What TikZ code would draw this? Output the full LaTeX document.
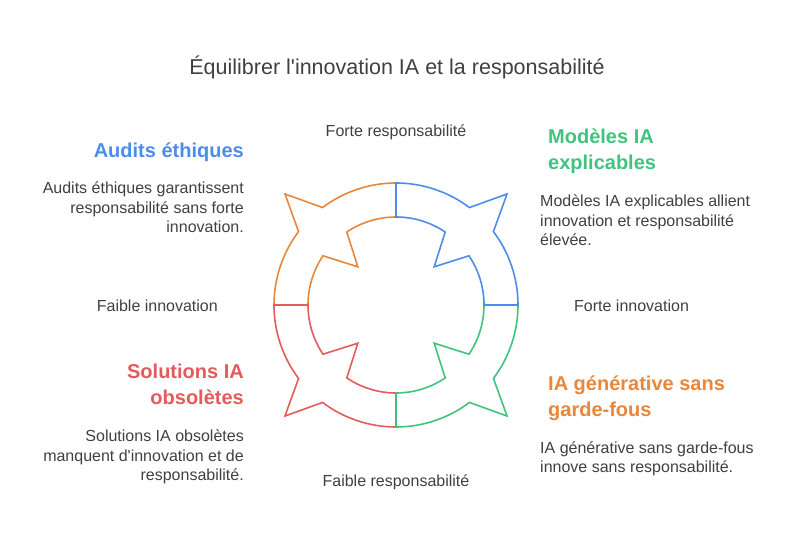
\documentclass[tikz,border=0pt]{standalone}
\usepackage{fontspec}
\setmainfont{Liberation Sans}
\usepackage{tikz}
\usetikzlibrary{positioning}
\definecolor{iablue}{RGB}{76, 140, 235}
\definecolor{iagreen}{RGB}{63, 196, 126}
\definecolor{iaorange}{RGB}{232, 135, 58}
\definecolor{iared}{RGB}{229, 90, 90}
\definecolor{txtgray}{RGB}{64, 64, 64}

\begin{document}
\begin{tikzpicture}[
  x=1pt, y=1pt,
  ringline/.style={line width=1.6pt, line join=miter},
  axislabel/.style={text=txtgray, inner sep=0pt, font=\fontsize{16}{19.5}\selectfont},
  headlabel/.style={inner sep=0pt, font=\fontsize{20}{26}\selectfont\bfseries},
  desclabel/.style={text=txtgray, inner sep=0pt, font=\fontsize{16}{19.5}\selectfont}
]
  \useasboundingbox (0,0) rectangle (800,559);

  % title
  \node[text=txtgray, inner sep=0pt, anchor=base, font=\fontsize{21.5}{26}\selectfont] (title) at (397,484) {Équilibrer l\textquotesingle innovation IA et la responsabilité};

  % ring, one closed piece per quadrant
  \begin{scope}[shift={(396,254)}]
    \draw[ringline, draw=iaorange] (90:122) arc[start angle=90, end angle=127, radius=122] -- (135:157) -- (143:122) arc[start angle=143, end angle=180, radius=122] -- (180:88) arc[start angle=180, end angle=146, radius=88] -- (135:54) -- (124:88) arc[start angle=124, end angle=90, radius=88] -- cycle;
    \draw[ringline, draw=iared] (180:122) arc[start angle=180, end angle=217, radius=122] -- (225:157) -- (233:122) arc[start angle=233, end angle=270, radius=122] -- (270:88) arc[start angle=270, end angle=236, radius=88] -- (225:54) -- (214:88) arc[start angle=214, end angle=180, radius=88] -- cycle;
    \draw[ringline, draw=iagreen] (270:122) arc[start angle=270, end angle=307, radius=122] -- (315:157) -- (323:122) arc[start angle=323, end angle=360, radius=122] -- (0:88) arc[start angle=360, end angle=326, radius=88] -- (315:54) -- (304:88) arc[start angle=304, end angle=270, radius=88] -- cycle;
    \draw[ringline, draw=iablue] (0:122) arc[start angle=0, end angle=37, radius=122] -- (45:157) -- (53:122) arc[start angle=53, end angle=90, radius=122] -- (90:88) arc[start angle=90, end angle=56, radius=88] -- (45:54) -- (34:88) arc[start angle=34, end angle=0, radius=88] -- cycle;
  \end{scope}

  % axis labels
  \node[axislabel, anchor=base] (hiresp) at (396,422) {Forte responsabilité};
  \node[axislabel, anchor=base] (loresp) at (396,72) {Faible responsabilité};
  \node[axislabel, anchor=base east] (loinno) at (218,247) {Faible innovation};
  \node[axislabel, anchor=base west] (hiinno) at (574,247) {Forte innovation};

  % quadrant texts (base = last line)
  \node[headlabel, text=iablue, anchor=base east, align=right] (audithead) at (244,401) {Audits éthiques};
  \node[desclabel, anchor=base east, align=right] (auditdesc) at (244,326) {Audits éthiques garantissent\\responsabilité sans forte\\innovation.};

  \node[headlabel, text=iagreen, anchor=base west, align=left] (modelhead) at (548,389) {Modèles IA\\explicables};
  \node[desclabel, anchor=base west, align=left] (modeldesc) at (540,313) {Modèles IA explicables allient\\innovation et responsabilité\\élevée.};

  \node[headlabel, text=iared, anchor=base east, align=right] (solhead) at (244,154) {Solutions IA\\obsolètes};
  \node[desclabel, anchor=base east, align=right] (soldesc) at (244,78) {Solutions IA obsolètes\\manquent d\textquotesingle innovation et de\\responsabilité.};

  \node[headlabel, text=iaorange, anchor=base west, align=left] (genhead) at (548,142) {IA générative sans\\garde-fous};
  \node[desclabel, anchor=base west, align=left] (gendesc) at (540,86) {IA générative sans garde-fous\\innove sans responsabilité.};
\end{tikzpicture}
\end{document}
